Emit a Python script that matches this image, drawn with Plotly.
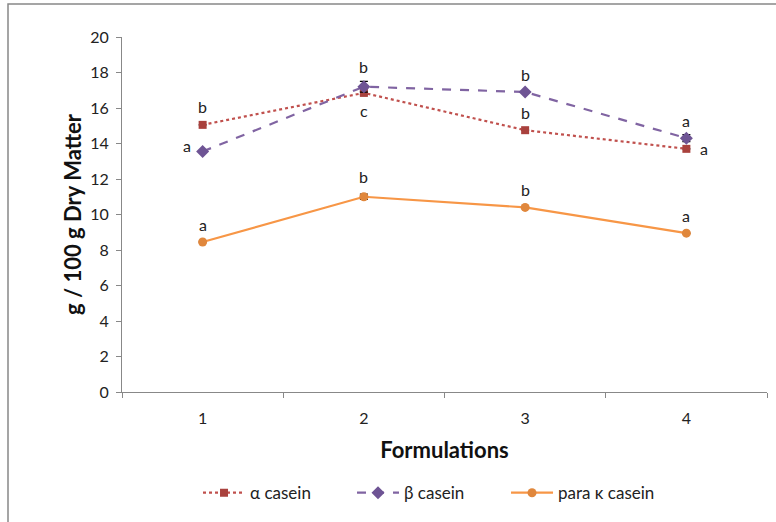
import plotly.graph_objects as go

formulations = ["1", "2", "3", "4"]
alpha_casein = [15.05, 16.85, 14.75, 13.7]
beta_casein = [13.55, 17.2, 16.9, 14.3]
para_kappa_casein = [8.45, 11.0, 10.4, 8.95]
alpha_err = [0.0, 0.1, 0.0, 0.0]
beta_err = [0.0, 0.3, 0.0, 0.2]
para_err = [0.0, 0.15, 0.0, 0.0]
alpha_letters = ["b", "c", "b", "a"]
beta_letters = ["a", "b", "b", "a"]
para_letters = ["a", "b", "b", "a"]
y_ticks = [0, 2, 4, 6, 8, 10, 12, 14, 16, 18, 20]

FONT = "Lato, 'Open Sans', sans-serif"

fig = go.Figure()
fig.add_trace(go.Scatter(
    x=formulations, y=alpha_casein, name="α casein", mode="lines+markers",
    line=dict(color="#C0504D", width=2.2, dash="dot"),
    marker=dict(symbol="square", size=8, color="#A9413D"),
    error_y=dict(type="data", array=alpha_err, color="black", thickness=1.2, width=4),
))
fig.add_trace(go.Scatter(
    x=formulations, y=beta_casein, name="β casein", mode="lines+markers",
    line=dict(color="#8064A2", width=2.2, dash="dash"),
    marker=dict(symbol="diamond", size=10, color="#6E5494"),
    error_y=dict(type="data", array=beta_err, color="black", thickness=1.2, width=4),
))
fig.add_trace(go.Scatter(
    x=formulations, y=para_kappa_casein, name="para κ casein", mode="lines+markers",
    line=dict(color="#F79646", width=2.2),
    marker=dict(symbol="circle", size=9, color="#E0873C"),
    error_y=dict(type="data", array=para_err, color="black", thickness=1.2, width=4),
))

ann = []
alpha_pos = [(0, 18), (0, -18), (0, 18), (18, 0)]
beta_pos = [(-16, 6), (0, 20), (0, 18), (0, 18)]
para_pos = [(0, 18), (0, 20), (0, 18), (0, 18)]
for vals, letters, pos in [(alpha_casein, alpha_letters, alpha_pos),
                           (beta_casein, beta_letters, beta_pos),
                           (para_kappa_casein, para_letters, para_pos)]:
    for i, (yv, t, (dx, dy)) in enumerate(zip(vals, letters, pos)):
        ann.append(dict(x=i, y=yv, xref="x", yref="y", text=t, showarrow=False,
                        xshift=dx, yshift=dy,
                        font=dict(family=FONT, size=16, color="#222")))

fig.update_layout(
    width=776, height=522,
    margin=dict(l=122, r=9, t=37, b=130, autoexpand=False),
    paper_bgcolor="white", plot_bgcolor="white",
    font=dict(family=FONT, size=14, color="#222"),
    annotations=ann,
    showlegend=True,
    legend=dict(orientation="h", x=0.476, xanchor="center", y=-0.285, yanchor="middle",
                font=dict(family=FONT, size=17, color="#222"), itemwidth=42,
                entrywidth=97, entrywidthmode="pixels", tracegroupgap=0),
    xaxis=dict(
        type="category", range=[-0.5, 3.5], automargin=False,
        showline=True, linecolor="#888", linewidth=1,
        ticks="outside", tickson="boundaries", ticklen=5, tickcolor="#888",
        showgrid=False, zeroline=False, ticklabelstandoff=12,
        title=dict(text="<b>Formulations</b>", font=dict(family=FONT, size=22, color="#111"), standoff=16),
        tickfont=dict(family=FONT, size=16, color="#222"),
    ),
    yaxis=dict(
        range=[0, 20], tickvals=y_ticks, automargin=False,
        showline=True, linecolor="#888", linewidth=1,
        ticks="outside", ticklen=5, tickcolor="#888", showgrid=False, zeroline=False,
        ticklabelstandoff=4,
        title=dict(text="<b>g / 100 g Dry Matter</b>", font=dict(family=FONT, size=22, color="#111"), standoff=2),
        tickfont=dict(family=FONT, size=16, color="#222"),
    ),
    shapes=[dict(type="rect", xref="paper", yref="paper",
                 x0=-114/645, x1=1.2, y0=-0.5, y1=1 + 33/355,
                 line=dict(color="#888", width=1.5), fillcolor="rgba(0,0,0,0)", layer="below")],
)

fig.write_html("out.html", post_script="document.body.style.margin='0px';",
               config={"displayModeBar": False})
